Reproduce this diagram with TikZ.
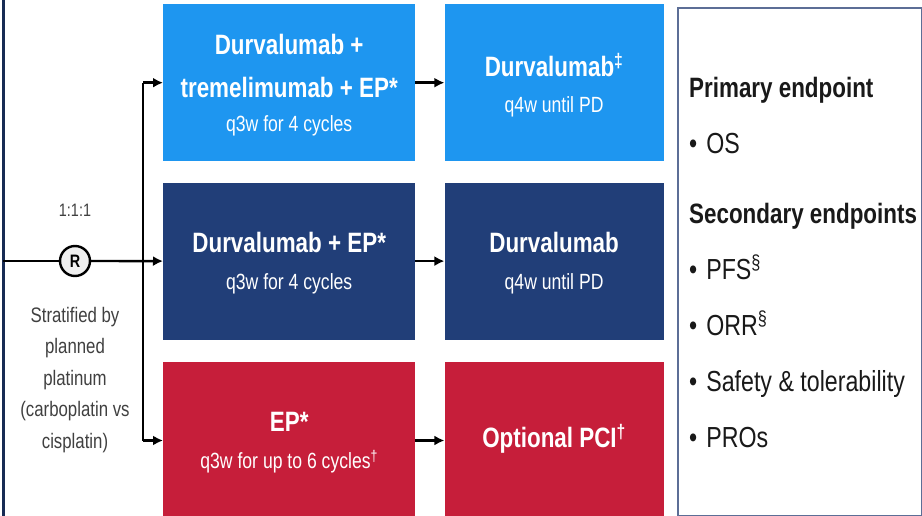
\documentclass[tikz,border=0pt]{standalone}
\usepackage{fontspec}
\setmainfont{Liberation Sans}[FakeStretch=0.8]
\usepackage{tikz}
\usetikzlibrary{positioning,arrows.meta}

\definecolor{ArmSky}{RGB}{30,150,240}
\definecolor{ArmNavy}{RGB}{33,62,120}
\definecolor{ArmRed}{RGB}{198,30,58}
\definecolor{PanelEdge}{RGB}{92,110,150}
\definecolor{NoteGray}{RGB}{64,64,64}

\newcommand{\armsub}[1]{{\fontsize{22}{26}\selectfont\mdseries #1}}
\newcommand{\ept}[1]{\textbullet\hspace{9pt}#1}
\newcommand{\epthead}[1]{{\fontsize{28}{34}\selectfont\bfseries #1}}

\begin{document}
\begin{tikzpicture}[
x=1pt, y=-1pt,
node distance=29pt,
arm/.style={fill=#1, text=white, minimum height=157pt, inner sep=0pt, text depth=-4.5pt, align=center, font=\fontsize{28}{34}\selectfont\bfseries},
wide/.style={minimum width=252pt},
narrow/.style={minimum width=219pt},
note/.style={text=NoteGray, inner sep=0pt, align=center},
arrow/.style={-{Latex[length=10pt,width=10pt]}, line width=2.4pt},
link/.style={line width=2.4pt}
]
\useasboundingbox (0,0) rectangle (922,516);

% treatment arms
\node[arm=ArmSky, wide, anchor=north west] (dte) at (163,4) {Durvalumab +\\[9pt]tremelimumab + EP*\\\armsub{q3w for 4 cycles}};
\node[arm=ArmSky, narrow, right=of dte] (dm1) {Durvalumab\textsuperscript{‡}\\[2.5pt]\armsub{q4w until PD}};
\node[arm=ArmNavy, wide, below=21pt of dte] (dep) {Durvalumab + EP*\\[3.5pt]\armsub{q3w for 4 cycles}};
\node[arm=ArmNavy, narrow, right=of dep] (dm2) {Durvalumab\\[3.5pt]\armsub{q4w until PD}};
\node[arm=ArmRed, wide, below=22pt of dep, text depth=-8.5pt] (ep) {EP*\\[3pt]\armsub{q3w for up to 6 cycles\textsuperscript{†}}};
\node[arm=ArmRed, narrow, right=of ep, text depth=9.5pt] (pci) {Optional PCI\textsuperscript{†}};

% randomisation
\node[circle, draw, line width=2.4pt, fill=gray!12, minimum size=30pt, inner sep=0pt, font=\fontsize{18}{20}\selectfont\bfseries] (rnd) at (75,261) {R};
\node[note, font=\fontsize{18}{20}\selectfont] (ratio) at (75,210) {1:1:1};
\node[note, anchor=north, font=\fontsize{21}{31.5}\selectfont] (strat) at (75,307) {Stratified by\\planned\\platinum\\(carboplatin vs\\cisplatin)};

% endpoints
\node[draw=PanelEdge, line width=2pt, fill=white, anchor=north west, minimum width=244pt, minimum height=508pt, inner sep=0pt] (ends) at (677,7) {};
\node[anchor=west, align=left, inner sep=0pt, text=black!90, font=\fontsize{29}{56}\selectfont] (endlist) at ([xshift=12pt]ends.west) {\epthead{Primary endpoint}\\\ept{OS}\\[14pt]\epthead{Secondary endpoints}\\\ept{PFS\textsuperscript{§}}\\\ept{ORR\textsuperscript{§}}\\\ept{Safety \& tolerability}\\\ept{PROs}};

\draw[line width=3pt, ArmNavy!70!black] (3,0) -- (3,516);
\coordinate (entry) at (3,261);
\coordinate (split) at (143,261);
\draw[link] (entry) -- (rnd);
\draw[arrow] (rnd) -- (dep.west);
\draw[link] (split |- dte.west) -- (split |- ep.west);
\draw[arrow] (split |- dte.west) -- (dte.west);
\draw[arrow] (split |- ep.west) -- (ep.west);
\draw[arrow] (dte) -- (dm1);
\draw[arrow] (dep) -- (dm2);
\draw[arrow] (ep) -- (pci);
\end{tikzpicture}
\end{document}
